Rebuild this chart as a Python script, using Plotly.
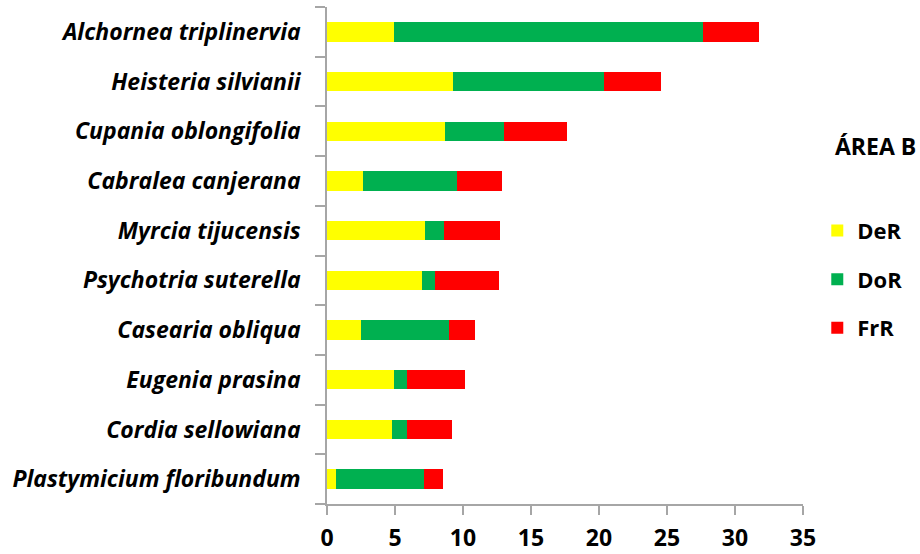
import plotly.graph_objects as go

# ── Data (top-to-bottom in the chart) ─────────────────────────────────────────
species = [
    "Alchornea triplinervia",
    "Heisteria silvianii",
    "Cupania oblongifolia",
    "Cabralea canjerana",
    "Myrcia tijucensis",
    "Psychotria suterella",
    "Casearia obliqua",
    "Eugenia prasina",
    "Cordia sellowiana",
    "Plastymicium floribundum",
]
der = [4.93, 9.26, 8.70, 2.67, 7.18, 7.01, 2.48, 4.93, 4.75, 0.69]
dor = [22.72, 11.13, 4.34, 6.89, 1.42, 0.93, 6.52, 0.95, 1.13, 6.42]
frr = [4.14, 4.14, 4.61, 3.28, 4.14, 4.73, 1.86, 4.24, 3.29, 1.39]

x_ticks = [0, 5, 10, 15, 20, 25, 30, 35]

FONT = "'Open Sans', Lato, sans-serif"
AXIS_GREY = "#a6a6a6"

series = [
    ("DeR", der, "#FFFF00"),
    ("DoR", dor, "#00B050"),
    ("FrR", frr, "#FF0000"),
]

fig = go.Figure()
for name, vals, colour in series:
    fig.add_trace(go.Bar(
        y=species, x=vals, name=name, orientation="h",
        marker=dict(color=colour, line=dict(width=0)),
        width=0.39, legendgroup=name,
    ))

fig.update_layout(
    barmode="stack",
    width=920, height=554,
    margin=dict(l=327, r=117, t=7, b=50, autoexpand=False),
    paper_bgcolor="white", plot_bgcolor="white",
    font=dict(family=FONT, color="black"),
    showlegend=True,
    # legend sits in the right margin, next to the plot
    legend=dict(
        x=1.03, y=0.592, xanchor="left", yanchor="top",
        traceorder="grouped", tracegroupgap=17,
        font=dict(size=22, family=FONT, weight="bold"),
        itemwidth=30, bgcolor="rgba(0,0,0,0)",
    ),
    annotations=[dict(
        text="ÁREA B", xref="paper", yref="paper",
        x=1.2416, y=0.72, xanchor="right", yanchor="middle",
        showarrow=False, font=dict(size=23, family=FONT, weight="bold"),
    )],
)

fig.update_xaxes(
    range=[0, 35], tickvals=x_ticks, showgrid=False, zeroline=False,
    showline=True, linecolor=AXIS_GREY, linewidth=1.5,
    ticks="outside", ticklen=9, tickcolor=AXIS_GREY, tickwidth=1.5,
    ticklabelstandoff=4,
    tickfont=dict(size=23, family=FONT, weight="bold"),
    automargin=False,
)
fig.update_yaxes(
    categoryorder="array", categoryarray=species[::-1],
    range=[-0.5, 9.5], showgrid=False, zeroline=False,
    showline=True, linecolor=AXIS_GREY, linewidth=1.5,
    ticks="outside", ticklen=10, tickcolor=AXIS_GREY, tickwidth=1.5,
    tickson="boundaries", ticklabelstandoff=20,
    tickfont=dict(size=23, family=FONT, weight="bold", style="italic"),
    automargin=False,
)

# drop the browser's default 8px page margin so the figure fills the window
fig.write_html(
    "out.html",
    config={"displayModeBar": False},
    post_script="document.body.style.margin='0px';",
)
